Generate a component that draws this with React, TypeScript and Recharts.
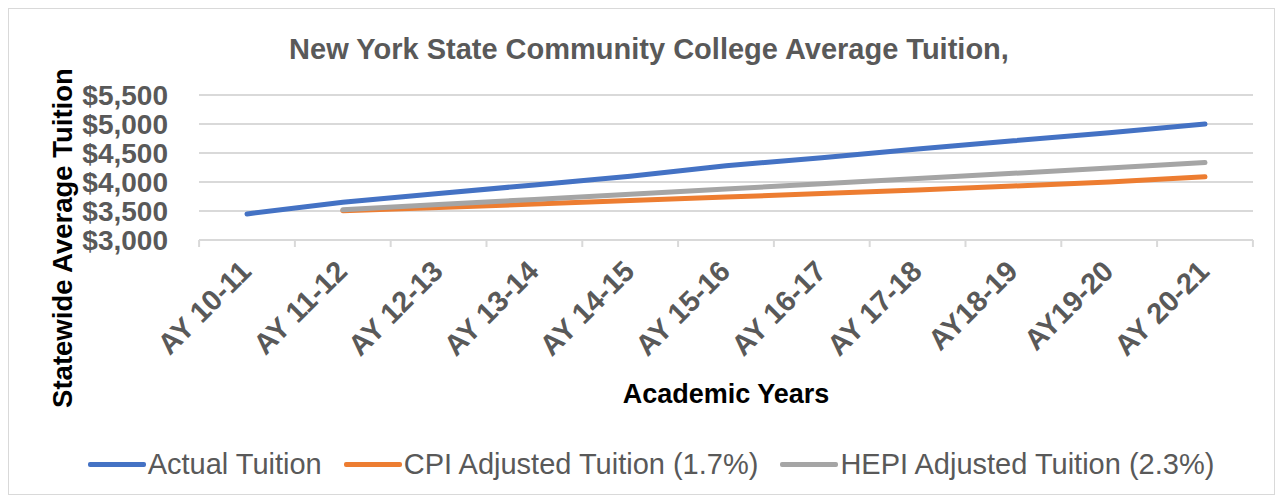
import React from 'react';
import { LineChart, Line, XAxis, YAxis, CartesianGrid, Legend } from 'recharts';

const academicYears = [
  'AY 10-11', 'AY 11-12', 'AY 12-13', 'AY 13-14', 'AY 14-15', 'AY 15-16',
  'AY 16-17', 'AY 17-18', 'AY18-19', 'AY19-20', 'AY 20-21',
];
const actualTuition = [3450, 3650, 3800, 3950, 4100, 4280, 4420, 4570, 4710, 4850, 5000];
const cpiAdjusted = [null, 3505, 3560, 3620, 3680, 3740, 3800, 3860, 3930, 4000, 4090];
const hepiAdjusted = [null, 3520, 3610, 3700, 3790, 3880, 3970, 4060, 4150, 4240, 4335];
const tuitionTicks = [3000, 3500, 4000, 4500, 5000, 5500];

const series = [
  { key: 'actual', name: 'Actual Tuition', color: '#4472C4' },
  { key: 'cpi', name: 'CPI Adjusted Tuition (1.7%)', color: '#ED7D31' },
  { key: 'hepi', name: 'HEPI Adjusted Tuition (2.3%)', color: '#A5A5A5' },
];

const chartData = academicYears.map((year, i) => ({
  year,
  actual: actualTuition[i],
  cpi: cpiAdjusted[i],
  hepi: hepiAdjusted[i],
}));

const FONT = '"Liberation Sans", Arial, sans-serif';
const GRID = '#d9d9d9';
const TEXT = '#595959';

const formatDollars = (v: number) => `$${v.toLocaleString('en-US')}`;

// category ticks sit between the years, like the spreadsheet original
const YearTick = (props: any) => {
  const { x, y, payload, index, width, visibleTicksCount } = props;
  const count = visibleTicksCount || academicYears.length;
  const half = (width || 1054) / count / 2;
  const ax = x + 6;
  const ay = y + 33;
  return (
    <g>
      <line x1={x - half} x2={x - half} y1={y} y2={y + 7} stroke={GRID} strokeWidth={2} />
      {index === count - 1 && (
        <line x1={x + half} x2={x + half} y1={y} y2={y + 7} stroke={GRID} strokeWidth={2} />
      )}
      <text
        x={ax}
        y={ay}
        transform={`rotate(-45, ${ax}, ${ay})`}
        textAnchor="end"
        fill={TEXT}
        fontSize={29}
        fontWeight="bold"
        fontFamily={FONT}
      >
        {payload.value}
      </text>
    </g>
  );
};

const XTitle = (props: any) => {
  const { viewBox } = props;
  return (
    <text
      x={viewBox.x + viewBox.width / 2}
      y={viewBox.y + 154}
      textAnchor="middle"
      dominantBaseline="central"
      fontSize={27}
      fontWeight="bold"
      fontFamily={FONT}
      fill="#000"
    >
      Academic Years
    </text>
  );
};

const YTitle = (props: any) => {
  const { viewBox } = props;
  const cx = viewBox.x + 53;
  const cy = viewBox.y + viewBox.height - 2;
  return (
    <text
      x={cx}
      y={cy}
      transform={`rotate(-90, ${cx}, ${cy})`}
      textAnchor="middle"
      dominantBaseline="central"
      fontSize={27.5}
      fontWeight="bold"
      fontFamily={FONT}
      fill="#000"
    >
      Statewide Average Tuition
    </text>
  );
};

const LegendContent = () => (
  <div
    style={{
      display: 'flex',
      justifyContent: 'center',
      alignItems: 'center',
      height: 40,
      paddingLeft: 62,
      fontFamily: FONT,
      fontSize: 29,
      color: TEXT,
    }}
  >
    {series.map((s) => (
      <div key={s.key} style={{ display: 'flex', alignItems: 'center', marginRight: 22 }}>
        <span
          style={{
            display: 'inline-block',
            width: 58,
            height: 5,
            borderRadius: 2,
            background: s.color,
            marginRight: 2,
          }}
        />
        {s.name}
      </div>
    ))}
  </div>
);

export default function App() {
  return (
    <div
      style={{
        position: 'relative',
        width: 1265,
        height: 485,
        border: `1px solid ${GRID}`,
        background: '#fff',
      }}
    >
      <div
        style={{
          position: 'absolute',
          left: 0,
          top: 24,
          width: 1280,
          textAlign: 'center',
          fontFamily: FONT,
          fontSize: 29,
          fontWeight: 'bold',
          color: TEXT,
          zIndex: 1,
        }}
      >
        New York State Community College Average Tuition,
      </div>
      <LineChart
        width={1265}
        height={485}
        data={chartData}
        margin={{ top: 86, right: 21, left: 0, bottom: 10 }}
      >
        <CartesianGrid vertical={false} stroke={GRID} strokeWidth={2} />
        <XAxis
          dataKey="year"
          interval={0}
          height={204}
          padding={{ left: 48, right: 48 }}
          axisLine={{ stroke: GRID, strokeWidth: 2 }}
          tickLine={false}
          tickSize={0}
          tickMargin={0}
          tick={<YearTick />}
          label={<XTitle />}
        />
        <YAxis
          width={190}
          domain={[3000, 5500]}
          ticks={tuitionTicks}
          interval={0}
          axisLine={false}
          tickLine={false}
          tickSize={0}
          tickMargin={31}
          tickFormatter={formatDollars}
          tick={{ fill: TEXT, fontSize: 28, fontWeight: 'bold', fontFamily: FONT }}
          label={<YTitle />}
        />
        <Legend verticalAlign="bottom" height={40} content={<LegendContent />} />
        {series.map((s) => (
          <Line
            key={s.key}
            type="linear"
            dataKey={s.key}
            name={s.name}
            stroke={s.color}
            strokeWidth={5}
            strokeLinecap="round"
            dot={false}
            activeDot={false}
            connectNulls={false}
            isAnimationActive={false}
          />
        ))}
      </LineChart>
    </div>
  );
}
